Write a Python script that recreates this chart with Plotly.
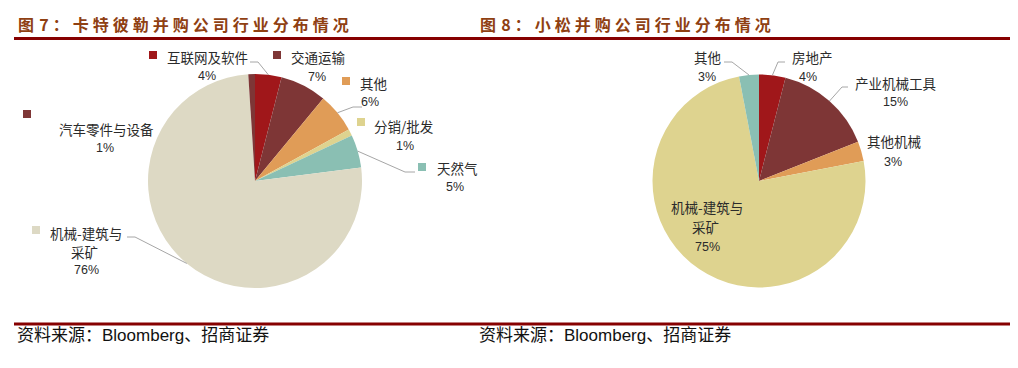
import math
import plotly.graph_objects as go

W, H = 1018, 368

# ---------------- data ----------------
left_title = "图 7：卡特彼勒并购公司行业分布情况"
right_title = "图 8：小松并购公司行业分布情况"
source_text = "资料来源：Bloomberg、招商证券"

left_labels = ["互联网及软件", "交通运输", "其他", "分销/批发", "天然气", "机械-建筑与采矿", "汽车零件与设备"]
left_values = [4, 7, 6, 1, 5, 76, 1]

right_labels = ["房地产", "产业机械工具", "其他机械", "机械-建筑与采矿", "其他"]
right_values = [4, 15, 3, 75, 3]

# ---------------- styles ----------------
left_colors = ["#A0171A", "#7E3636", "#E09C57", "#DED38F", "#8ABFB3", "#DDD9C4", "#7E3636"]
right_colors = ["#A0171A", "#7E3636", "#E09C57", "#DED38F", "#8ABFB3"]
TITLE_COLOR = "#8F4012"
RULE_COLOR = "#860000"
TEXT_COLOR = "#2B2B2B"
LEADER_COLOR = "#A6A6A6"
CJK = "Noto Sans CJK SC"
LAT = "Liberation Sans, Noto Sans CJK SC"

L_CX, L_CY, L_R = 255, 181, 107
R_CX, R_CY, R_R = 759, 181, 106.5


def px(x):
    return x / W


def py(y):
    return 1 - y / H


def domain(cx, cy, r):
    return dict(x=[px(cx - r), px(cx + r)], y=[py(cy + r), py(cy - r)])


def edge_point(values, i, cx, cy, r):
    total = sum(values)
    frac = (sum(values[:i]) + values[i] / 2) / total
    th = 2 * math.pi * frac
    return cx + r * math.sin(th), cy - r * math.cos(th)


fig = go.Figure()
fig.add_trace(go.Pie(labels=left_labels, values=left_values, sort=False, direction="clockwise",
                     rotation=0, marker=dict(colors=left_colors, line=dict(width=0)),
                     textinfo="none", hoverinfo="label+percent", showlegend=False,
                     domain=domain(L_CX, L_CY, L_R)))
fig.add_trace(go.Pie(labels=right_labels, values=right_values, sort=False, direction="clockwise",
                     rotation=0, marker=dict(colors=right_colors, line=dict(width=0)),
                     textinfo="none", hoverinfo="label+percent", showlegend=False,
                     domain=domain(R_CX, R_CY, R_R)))

annotations = []
shapes = []


def add_text(x, y, s, size, family=CJK, color=TEXT_COLOR, anchor="center", weight="normal"):
    annotations.append(dict(x=px(x), y=py(y), xref="paper", yref="paper", text=s,
                            showarrow=False, xanchor=anchor, yanchor="middle",
                            font=dict(family=family, size=size, color=color, weight=weight)))


def add_leader(start, elbow, end):
    path = "M {},{} L {},{} L {},{}".format(px(start[0]), py(start[1]), px(elbow[0]), py(elbow[1]),
                                           px(end[0]), py(end[1]))
    shapes.append(dict(type="path", path=path, xref="paper", yref="paper",
                       line=dict(color=LEADER_COLOR, width=1)))


# ---------------- titles & rules ----------------
def spaced(t):
    head, rest = t.split("：", 1)
    return head.replace(" ", "\u2004") + "\u2005：\u2005" + "\u2005".join(rest)


add_text(16, 24, spaced(left_title), 16, family=CJK, color=TITLE_COLOR, anchor="left", weight="bold")
add_text(478, 24, spaced(right_title), 16, family=CJK, color=TITLE_COLOR, anchor="left", weight="bold")
add_text(15, 335, source_text, 17, family=LAT, color="#111111", anchor="left")
add_text(477, 335, source_text, 17, family=LAT, color="#111111", anchor="left")

for yy in (38.5, 324):
    shapes.append(dict(type="line", xref="paper", yref="paper", x0=px(14), x1=px(1010),
                       y0=py(yy), y1=py(yy), line=dict(color=RULE_COLOR, width=3)))

# ---------------- left labels (with legend keys) ----------------
left_layout = [
    dict(mk=(149, 51), lines=[(165, 57, "left")], split=None, pct=(207, 76), lead=((258, 62), (250, 62))),
    dict(mk=(273, 51), lines=[(289, 57, "left")], split=None, pct=(317, 77), lead=None),
    dict(mk=(342, 77), lines=[(358, 83, "left")], split=None, pct=(370, 102), lead=((353, 107), (362, 107))),
    dict(mk=(357, 118), lines=[(372, 126, "left")], split=None, pct=(405, 146), lead=None),
    dict(mk=(418, 163), lines=[(435, 168, "left")], split=None, pct=(455, 187), lead=((405, 172), (415, 172))),
    dict(mk=(32, 226), lines=[(48, 233, "left"), (84, 252, "center")], split=6, pct=(86, 270),
         lead=((135, 237), (127, 237))),
    dict(mk=(23, 110), lines=[(57, 129, "left")], split=None, pct=(105, 148), lead=None),
]

for i, (name, val) in enumerate(zip(left_labels, left_values)):
    lay = left_layout[i]
    mx, my = lay["mk"]
    shapes.append(dict(type="rect", xref="paper", yref="paper", x0=px(mx), x1=px(mx + 8),
                       y0=py(my + 8), y1=py(my), fillcolor=left_colors[i], line=dict(width=0)))
    parts = [name] if lay["split"] is None else [name[:lay["split"]], name[lay["split"]:]]
    for part, (tx, ty, anc) in zip(parts, lay["lines"]):
        add_text(tx, ty, part, 13.5, anchor=anc)
    add_text(lay["pct"][0], lay["pct"][1], f"{val}%", 12.5, family=LAT)
    if lay["lead"]:
        start = edge_point(left_values, i, L_CX, L_CY, L_R)
        add_leader(start, lay["lead"][0], lay["lead"][1])

# ---------------- right labels ----------------
right_layout = [
    dict(lines=[(812, 57)], split=None, pct=(808, 77), lead=((778, 62), (785, 62))),
    dict(lines=[(895, 83)], split=None, pct=(895, 102), lead=((842, 87), (848, 87))),
    dict(lines=[(894, 141)], split=None, pct=(893, 162), lead=None),
    dict(lines=[(707, 207), (705, 227)], split=6, pct=(707, 247), lead=None),
    dict(lines=[(707, 57)], split=None, pct=(707, 77), lead=((732, 62), (724, 62))),
]

for i, (name, val) in enumerate(zip(right_labels, right_values)):
    lay = right_layout[i]
    parts = [name] if lay["split"] is None else [name[:lay["split"]], name[lay["split"]:]]
    for part, (tx, ty) in zip(parts, lay["lines"]):
        add_text(tx, ty, part, 13.5)
    add_text(lay["pct"][0], lay["pct"][1], f"{val}%", 12.5, family=LAT)
    if lay["lead"]:
        start = edge_point(right_values, i, R_CX, R_CY, R_R)
        add_leader(start, lay["lead"][0], lay["lead"][1])

fig.update_layout(width=W, height=H, margin=dict(l=0, r=0, t=0, b=0),
                  paper_bgcolor="white", plot_bgcolor="white",
                  annotations=annotations, shapes=shapes, showlegend=False)

fig.write_html("out.html")
